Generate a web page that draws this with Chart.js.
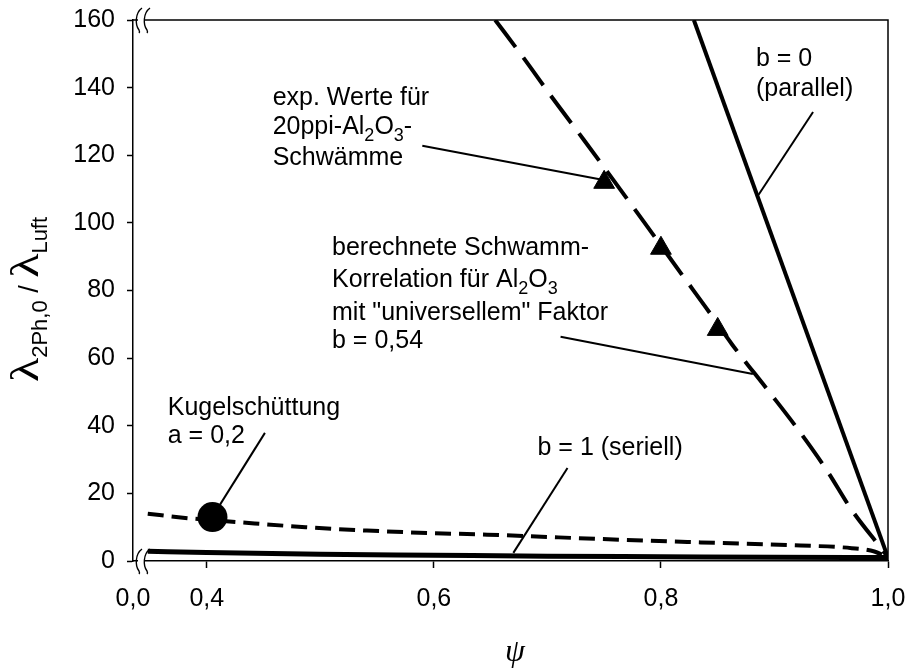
<!DOCTYPE html>
<html>
<head>
<meta charset="utf-8">
<script src="https://cdn.jsdelivr.net/npm/chart.js@4.4.1/dist/chart.umd.min.js"></script>
<style>
  html, body { margin: 0; padding: 0; background: #fff; }
  #wrap { width: 908px; height: 671px; position: relative; }
</style>
</head>
<body>
<div id="wrap"><canvas id="c"></canvas></div>
<script>
// Axis ticks (the ψ axis is broken; its left end carries the label 0,0)
const X_MIN = 0.335;
const X_MAX = 1.0;
const xTickValues = [0.4, 0.6, 0.8, 1.0];
const yTickValues = [0, 20, 40, 60, 80, 100, 120, 140, 160];

// b = 0 (parallel)
const psiParallel = [0.829, 1.0];
const ratioParallel = [160, 1.0];

// b = 1 (seriell)
const psiSerial = [0.348, 0.4, 0.5, 0.6, 0.7, 0.8, 0.9, 1.0];
const ratioSerial = [2.9, 2.5, 2.0, 1.7, 1.4, 1.25, 1.1, 1.0];

// Schwamm-Korrelation, b = 0,54
const psiSponge = [0.654, 0.679, 0.705, 0.732, 0.758, 0.785, 0.82, 0.84, 0.863, 0.894, 0.921, 0.946, 0.968, 0.997, 1.0];
const ratioSponge = [160, 148.8, 136.7, 124.6, 112.7, 100.3, 84.0, 74.8, 63.9, 50.6, 38.8, 26.9, 15.1, 2.4, 1.0];

// Kugelschüttung, a = 0,2
const psiPacked = [0.348, 0.379, 0.431, 0.487, 0.541, 0.594, 0.647, 0.747, 0.835, 0.923, 0.968, 0.988, 1.0];
const ratioPacked = [14.0, 12.8, 11.4, 10.0, 9.0, 8.3, 7.8, 6.5, 5.5, 4.6, 3.8, 2.8, 1.0];

// Messwerte 20ppi-Al2O3-Schwämme
const psiExp = [0.75, 0.80, 0.85];
const ratioExp = [112, 92.5, 68.5];

// Kugelschüttung, Einzelwert
const psiSphere = [0.405];
const ratioSphere = [13.0];

// Beschriftungen ("_x" = tiefgestelltes Zeichen)
const noteTexts = [
  ["exp. Werte für", "20ppi-Al_2O_3-", "Schwämme"],
  ["berechnete Schwamm-", "Korrelation für Al_2O_3", "mit \"universellem\" Faktor", "b = 0,54"],
  ["Kugelschüttung", "a = 0,2"],
  ["b = 1 (seriell)"],
  ["b = 0", "(parallel)"]
];
const noteAnchors = [[0.458, 134.9], [0.5103, 90.5], [0.3656, 43.2], [0.6913, 31.4], [0.8837, 146.4]];
const noteLineOffsets = [[0, 29, 60], [0, 32, 65, 93], [0, 28], [0], [0, 30]];

// Hinweislinien: [ψ1, Wert1, ψ2, Wert2]
const leaderLines = [
  [0.5898, 122.8, 0.7495, 112.7],
  [0.7116, 66.3, 0.881, 55.3],
  [0.4512, 37.9, 0.4115, 16.6],
  [0.7177, 27.5, 0.670, 2.4],
  [0.934, 132.8, 0.886, 108.3]
];

const SANS = '"Liberation Sans", Arial, sans-serif';
const SERIF = '"Liberation Serif", "Times New Roman", serif';
const pts = (xs, ys) => xs.map((x, i) => ({ x: x, y: ys[i] }));

function runsOf(str) {
  const out = [];
  let buf = '';
  for (let i = 0; i < str.length; i++) {
    if (str[i] === '_' && i + 1 < str.length) {
      if (buf) out.push({ t: buf, sub: false });
      buf = '';
      out.push({ t: str[i + 1], sub: true });
      i++;
    } else {
      buf += str[i];
    }
  }
  if (buf) out.push({ t: buf, sub: false });
  return out;
}

function drawRich(ctx, str, x, y) {
  let cx = x;
  for (const r of runsOf(str)) {
    ctx.font = r.sub ? '18px ' + SANS : '25px ' + SANS;
    ctx.fillText(r.t, cx, r.sub ? y + 7 : y);
    cx += ctx.measureText(r.t).width;
  }
}

function breakMark(ctx, x, y) {
  ctx.save();
  ctx.fillStyle = '#fff';
  ctx.fillRect(x, y - 3, 7, 6);
  ctx.strokeStyle = '#000';
  ctx.lineWidth = 1.4;
  for (const dx of [0, 8]) {
    const bx = x + dx;
    ctx.beginPath();
    ctx.moveTo(bx + 4, y - 12);
    ctx.bezierCurveTo(bx - 3, y - 7, bx - 3, y + 5, bx + 1, y + 10);
    ctx.quadraticCurveTo(bx + 2, y + 12, bx + 1, y + 13);
    ctx.stroke();
  }
  ctx.restore();
}

const decorations = {
  id: 'decorations',
  afterDatasetsDraw(chart) {
    const ctx = chart.ctx;
    const xs = chart.scales.x, ys = chart.scales.y;
    ctx.save();
    // Hinweislinien
    ctx.strokeStyle = '#000';
    ctx.lineWidth = 2;
    for (const l of leaderLines) {
      ctx.beginPath();
      ctx.moveTo(xs.getPixelForValue(l[0]), ys.getPixelForValue(l[1]));
      ctx.lineTo(xs.getPixelForValue(l[2]), ys.getPixelForValue(l[3]));
      ctx.stroke();
    }
    // Texte
    ctx.fillStyle = '#000';
    ctx.textBaseline = 'alphabetic';
    ctx.textAlign = 'left';
    noteTexts.forEach((lines, i) => {
      const x0 = xs.getPixelForValue(noteAnchors[i][0]);
      const y0 = ys.getPixelForValue(noteAnchors[i][1]);
      lines.forEach((s, j) => drawRich(ctx, s, x0, y0 + noteLineOffsets[i][j]));
    });
    ctx.restore();
  },
  afterDraw(chart) {
    const ctx = chart.ctx;
    const a = chart.chartArea;
    ctx.save();
    // Rahmen oben und rechts
    ctx.strokeStyle = '#000';
    ctx.lineWidth = 1.5;
    ctx.beginPath();
    ctx.moveTo(a.left, a.top);
    ctx.lineTo(a.right, a.top);
    ctx.lineTo(a.right, a.bottom);
    ctx.stroke();
    // Achsenbruch
    breakMark(ctx, a.left + 5, a.top);
    breakMark(ctx, a.left + 5, a.bottom);

    // y-Achsentitel: λ_2Ph,0 / λ_Luft
    const runs = [
      { t: 'λ', font: '40px ' + SERIF, dy: 0, sx: 1.25 },
      { t: '2Ph,0', font: '22px ' + SANS, dy: 9, sx: 1 },
      { t: ' / ', font: '27px ' + SANS, dy: 0, sx: 1 },
      { t: 'λ', font: '40px ' + SERIF, dy: 0, sx: 1.25 },
      { t: 'Luft', font: '22px ' + SANS, dy: 9, sx: 1 }
    ];
    let total = 0;
    for (const r of runs) { ctx.font = r.font; r.w = ctx.measureText(r.t).width * r.sx; total += r.w; }
    ctx.translate(38, (a.top + a.bottom) / 2 + 9);
    ctx.rotate(-Math.PI / 2);
    ctx.fillStyle = '#000';
    ctx.textBaseline = 'alphabetic';
    let cx = -total / 2;
    for (const r of runs) {
      ctx.save();
      ctx.font = r.font;
      ctx.translate(cx, r.dy);
      ctx.scale(r.sx, 1);
      ctx.fillText(r.t, 0, 0);
      ctx.restore();
      cx += r.w;
    }
    ctx.restore();

    // x-Achsentitel ψ
    ctx.save();
    ctx.fillStyle = '#000';
    ctx.font = 'italic 32px ' + SERIF;
    ctx.textAlign = 'center';
    ctx.textBaseline = 'alphabetic';
    ctx.fillText('ψ', 515, 661);
    ctx.restore();
  }
};

const tickFont = { family: SANS, size: 25 };

new Chart(document.getElementById('c'), {
  type: 'scatter',
  data: {
    datasets: [
      { data: pts(psiExp, ratioExp), pointStyle: 'triangle', pointRadius: 12, backgroundColor: '#000', borderColor: '#000', borderWidth: 1, showLine: false },
      { data: pts(psiSphere, ratioSphere), pointStyle: 'circle', pointRadius: 15, backgroundColor: '#000', borderColor: '#000', borderWidth: 0, showLine: false },
      { data: pts(psiParallel, ratioParallel), showLine: true, borderColor: '#000', borderWidth: 4, pointRadius: 0 },
      { data: pts(psiSerial, ratioSerial), showLine: true, borderColor: '#000', borderWidth: 5, pointRadius: 0, tension: 0.3, cubicInterpolationMode: 'monotone' },
      { data: pts(psiSponge, ratioSponge), showLine: true, borderColor: '#000', borderWidth: 4, borderDash: [34, 13], pointRadius: 0, tension: 0.2, cubicInterpolationMode: 'monotone' },
      { data: pts(psiPacked, ratioPacked), showLine: true, borderColor: '#000', borderWidth: 4, borderDash: [16, 8], pointRadius: 0, tension: 0.3, cubicInterpolationMode: 'monotone' }
    ]
  },
  options: {
    responsive: true,
    maintainAspectRatio: false,
    animation: false,
    events: [],
    layout: { padding: 0 },
    plugins: { legend: { display: false }, tooltip: { enabled: false } },
    scales: {
      x: {
        type: 'linear',
        min: X_MIN,
        max: X_MAX,
        afterBuildTicks: s => { s.ticks = [X_MIN].concat(xTickValues).map(v => ({ value: v })); },
        afterFit: s => { s.height = 110; s.paddingLeft = 0; s.paddingRight = 20; },
        ticks: {
          font: tickFont, color: '#000', padding: 16, maxRotation: 0, autoSkip: false,
          callback: v => (v <= X_MIN + 1e-9 ? '0,0' : v.toFixed(1).replace('.', ','))
        },
        grid: {
          drawOnChartArea: false, tickLength: 7, tickWidth: 1.5,
          tickColor: c => (c.tick && c.tick.value <= X_MIN + 1e-9 ? 'rgba(0,0,0,0)' : '#000')
        },
        border: { color: '#000', width: 1.5 }
      },
      y: {
        min: 0,
        max: 160,
        afterBuildTicks: s => { s.ticks = yTickValues.map(v => ({ value: v })); },
        afterFit: s => { s.width = 133; s.paddingTop = 20; s.paddingBottom = 0; },
        ticks: { font: tickFont, color: '#000', padding: 12, autoSkip: false },
        grid: { drawOnChartArea: false, tickLength: 6, tickWidth: 1.5, tickColor: '#000' },
        border: { color: '#000', width: 1.5 }
      }
    }
  },
  plugins: [decorations]
});
</script>
</body>
</html>
